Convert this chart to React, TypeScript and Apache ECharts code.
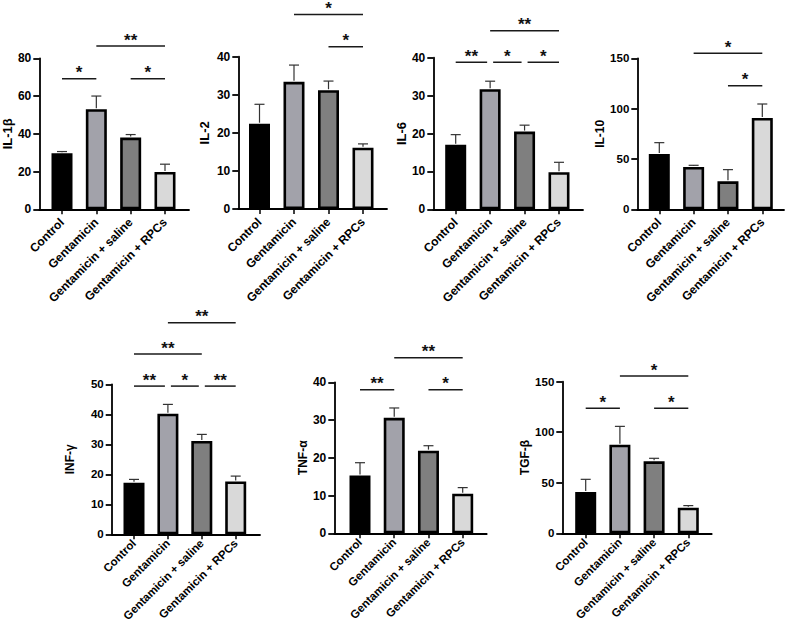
import React, { useEffect, useRef } from 'react';
import * as echarts from 'echarts';

const groups = ['Control', 'Gentamicin', 'Gentamicin + saline', 'Gentamicin + RPCs'];
const barColors = ['#000000', '#a2a2aa', '#7f7f7f', '#d9d9d9'];

// values (mean) and upper error bar ends
const il1bMean = [29.7, 53.0, 38.0, 19.8];
const il1bUpper = [30.6, 60.0, 39.6, 23.9];
const il1bSig: [number, number, number, string][] = [[0, 1, 69.2, '*'], [2, 3, 69.2, '*'], [1, 3, 86.5, '**']];

const il2Mean = [22.4, 33.4, 31.2, 16.1];
const il2Upper = [27.5, 37.8, 33.6, 17.1];
const il2Sig: [number, number, number, string][] = [[1, 3, 51.1, '*'], [2, 3, 42.6, '*']];

const il6Mean = [17.0, 31.7, 20.5, 9.8];
const il6Upper = [19.7, 33.8, 22.2, 12.4];
const il6Sig: [number, number, number, string][] = [[0, 1, 38.8, '**'], [1, 2, 38.8, '*'], [2, 3, 38.8, '*'], [1, 3, 47.1, '**']];

const il10Mean = [55.0, 42.0, 27.8, 90.7];
const il10Upper = [66.2, 43.7, 39.4, 104.6];
const il10Sig: [number, number, number, string][] = [[1, 3, 154.9, '*'], [2, 3, 122.8, '*']];

const infgMean = [17.2, 40.2, 31.1, 17.6];
const infgUpper = [18.3, 43.3, 33.3, 19.4];
const infgSig: [number, number, number, string][] = [[0, 1, 49.4, '**'], [1, 2, 49.4, '*'], [2, 3, 49.4, '**'], [0, 2, 60.1, '**'], [1, 3, 70.5, '**']];

const tnfaMean = [15.3, 30.6, 21.9, 10.5];
const tnfaUpper = [18.7, 33.2, 23.2, 12.1];
const tnfaSig: [number, number, number, string][] = [[0, 1, 38.0, '**'], [2, 3, 38.0, '*'], [1, 3, 46.5, '**']];

const tgfbMean = [40.9, 87.7, 71.2, 25.4];
const tgfbUpper = [53.4, 105.8, 74.2, 27.4];
const tgfbSig: [number, number, number, string][] = [[0, 1, 123.7, '*'], [2, 3, 123.7, '*'], [1, 3, 155.6, '*']];

const panels = [
  { name: 'IL-1β', mean: il1bMean, upper: il1bUpper, sig: il1bSig, yMax: 80, yInt: 20, axisX: 39.3, axisEnd: 189, c0: 62, c3: 165, top: 58.3, zero: 209.3, nameGap: 25, fs: 12, nfs: 13, lm: 11, lfs: 12 },
  { name: 'IL-2', mean: il2Mean, upper: il2Upper, sig: il2Sig, yMax: 40, yInt: 10, axisX: 238.3, axisEnd: 387, c0: 259.5, c3: 363, top: 56.7, zero: 209, nameGap: 27, fs: 12, nfs: 13, lm: 11, lfs: 12 },
  { name: 'IL-6', mean: il6Mean, upper: il6Upper, sig: il6Sig, yMax: 40, yInt: 10, axisX: 433.3, axisEnd: 583, c0: 455.7, c3: 559, top: 57.7, zero: 209.3, nameGap: 24, fs: 12, nfs: 13, lm: 11, lfs: 12 },
  { name: 'IL-10', mean: il10Mean, upper: il10Upper, sig: il10Sig, yMax: 150, yInt: 50, axisX: 637.3, axisEnd: 784, c0: 659.3, c3: 762.3, top: 58.3, zero: 209.3, nameGap: 29, fs: 11.5, nfs: 12, lm: 11, lfs: 12 },
  { name: 'INF-γ', mean: infgMean, upper: infgUpper, sig: infgSig, yMax: 50, yInt: 10, axisX: 111.7, axisEnd: 260, c0: 134, c3: 235.7, top: 384.3, zero: 534.3, nameGap: 36, fs: 11.5, nfs: 12, lm: 7, lfs: 11.5 },
  { name: 'TNF-α', mean: tnfaMean, upper: tnfaUpper, sig: tnfaSig, yMax: 40, yInt: 10, axisX: 334.3, axisEnd: 486.7, c0: 360, c3: 462.7, top: 382.3, zero: 533.3, nameGap: 21, fs: 12, nfs: 12, lm: 7, lfs: 11.5 },
  { name: 'TGF-β', mean: tgfbMean, upper: tgfbUpper, sig: tgfbSig, yMax: 150, yInt: 50, axisX: 562.3, axisEnd: 711.7, c0: 585.7, c3: 688.3, top: 381.7, zero: 533.3, nameGap: 31, fs: 11.5, nfs: 12, lm: 7, lfs: 11.5 },
];

const FONT = '"Liberation Sans", Arial, sans-serif';

function buildOption() {
  const grid: any[] = [];
  const xAxis: any[] = [];
  const yAxis: any[] = [];
  const series: any[] = [];
  const axisLineStyle = { color: '#000', width: 1.8 };

  panels.forEach((p, k) => {
    const outer = k * 2;
    const inner = k * 2 + 1;
    const sp = (p.c3 - p.c0) / 3;
    const h = p.zero - p.top;
    grid.push({ left: p.axisX, top: p.top, width: p.axisEnd - p.axisX, height: h, outerBoundsMode: 'none', containLabel: false });
    grid.push({ left: p.c0 - sp / 2, top: p.top, width: sp * 4, height: h, outerBoundsMode: 'none', containLabel: false });

    xAxis.push({
      type: 'value', gridIndex: outer, min: 0, max: 1, position: 'bottom',
      axisLine: { show: true, onZero: false, lineStyle: axisLineStyle },
      axisTick: { show: false }, axisLabel: { show: false }, splitLine: { show: false },
    });
    yAxis.push({
      type: 'value', gridIndex: outer, min: 0, max: p.yMax, interval: p.yInt, position: 'left',
      name: p.name, nameLocation: 'middle', nameGap: p.nameGap,
      nameTextStyle: { fontFamily: FONT, fontWeight: 'bold', fontSize: p.nfs, color: '#000' },
      axisLine: { show: true, onZero: false, lineStyle: axisLineStyle },
      axisTick: { show: true, length: 6, lineStyle: axisLineStyle },
      axisLabel: { fontFamily: FONT, fontWeight: 'bold', fontSize: p.fs, color: '#000', margin: 8 },
      splitLine: { show: false },
    });
    xAxis.push({
      type: 'category', gridIndex: inner, data: groups, position: 'bottom',
      axisLine: { show: false, onZero: false },
      axisTick: { show: true, alignWithLabel: true, length: 5, lineStyle: { color: '#000', width: 1.5 } },
      axisLabel: { rotate: 45, interval: 0, margin: p.lm, fontFamily: FONT, fontWeight: 'bold', fontSize: p.lfs, color: '#000' },
      splitLine: { show: false },
    });
    yAxis.push({ type: 'value', gridIndex: inner, min: 0, max: p.yMax, show: false });

    series.push({
      type: 'bar', xAxisIndex: inner, yAxisIndex: inner, barWidth: 21,
      data: p.mean.map((v, i) => ({ value: v, itemStyle: { color: barColors[i] } })),
      itemStyle: { borderColor: '#000', borderWidth: 2.6 },
      z: 2,
    });

    series.push({
      type: 'custom', xAxisIndex: inner, yAxisIndex: inner, z: 3,
      encode: { x: 0, y: [1, 2] },
      data: p.mean.map((v, i) => [i, v, p.upper[i]]),
      renderItem: (params: any, api: any) => {
        const i = api.value(0);
        const base = api.coord([i, api.value(1)]);
        const top = api.coord([i, api.value(2)]);
        const st = { stroke: '#333', lineWidth: 1.2 };
        return {
          type: 'group',
          children: [
            { type: 'line', shape: { x1: top[0], y1: base[1] - 1, x2: top[0], y2: top[1] }, style: st },
            { type: 'line', shape: { x1: top[0] - 5, y1: top[1], x2: top[0] + 5, y2: top[1] }, style: st },
          ],
        };
      },
    });

    const sig = p.sig;
    series.push({
      type: 'custom', xAxisIndex: inner, yAxisIndex: inner, z: 4, clip: false,
      encode: { x: [0, 1], y: 2 },
      data: sig.map((s) => [s[0], s[1], s[2]]),
      renderItem: (params: any, api: any) => {
        const d = params.dataIndex;
        const s = sig[d];
        const a = api.coord([s[0], s[2]]);
        const b = api.coord([s[1], s[2]]);
        const shrinkStart = sig.some((o, j) => j !== d && Math.abs(o[2] - s[2]) < 0.01 && o[1] === s[0]);
        const shrinkEnd = sig.some((o, j) => j !== d && Math.abs(o[2] - s[2]) < 0.01 && o[0] === s[1]);
        const x1 = a[0] + (shrinkStart ? 3 : 0);
        const x2 = b[0] - (shrinkEnd ? 3 : 0);
        return {
          type: 'group',
          children: [
            { type: 'line', shape: { x1, y1: a[1], x2, y2: a[1] }, style: { stroke: '#1a1a1a', lineWidth: 1.5 } },
            {
              type: 'text', x: (x1 + x2) / 2, y: a[1] - 6,
              style: { text: s[3], font: `bold 17px ${FONT}`, fill: '#111', align: 'center', verticalAlign: 'middle' },
            },
          ],
        };
      },
    });
  });

  return { animation: false, backgroundColor: '#fff', grid, xAxis, yAxis, series };
}

export default function App() {
  const ref = useRef<HTMLDivElement>(null);
  useEffect(() => {
    if (!ref.current) return;
    const chart = echarts.init(ref.current, undefined, { renderer: 'svg' });
    chart.setOption(buildOption() as any);
    return () => chart.dispose();
  }, []);
  return <div ref={ref} style={{ position: 'fixed', left: 0, top: 0, width: 789, height: 626, background: '#fff' }} />;
}
